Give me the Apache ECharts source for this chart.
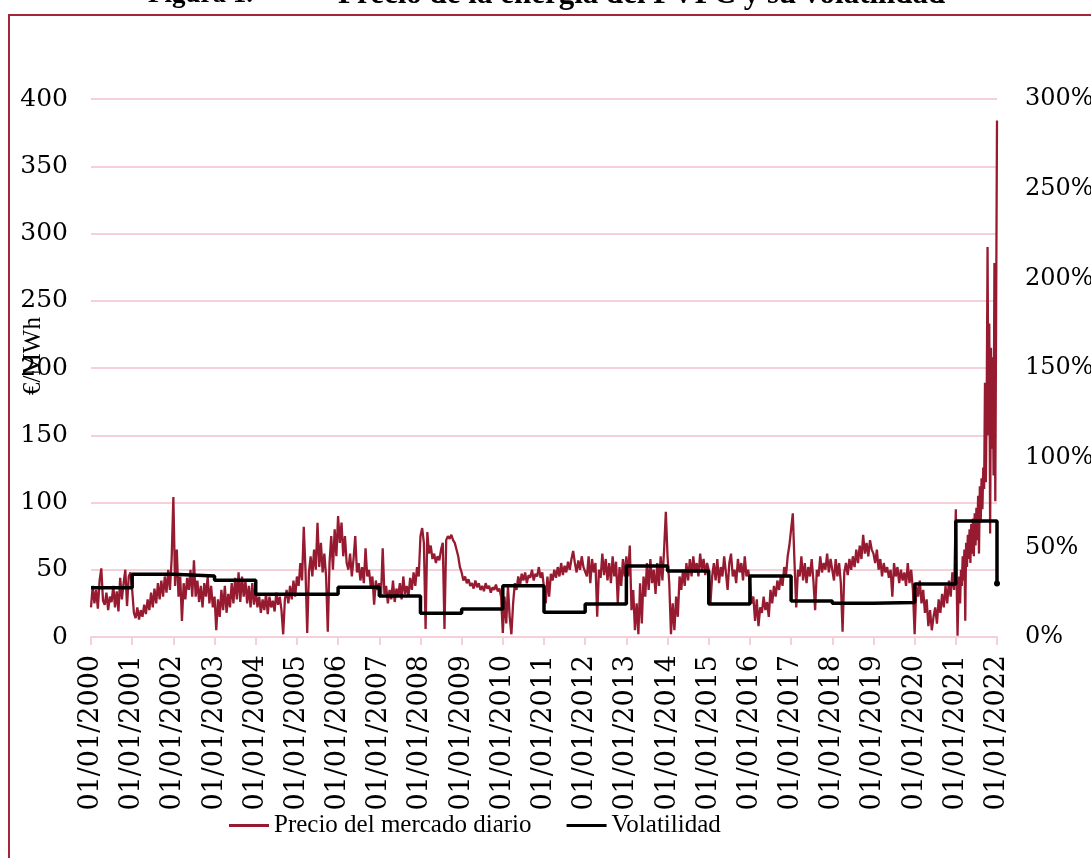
<!DOCTYPE html>
<html>
<head>
<meta charset="utf-8">
<script src="https://cdn.jsdelivr.net/npm/echarts@6/dist/echarts.min.js"></script>
<style>
html,body{margin:0;padding:0;background:#fff;overflow:hidden;}
#chart{width:1091px;height:858px;}
</style>
</head>
<body>
<div id="chart"></div>
<script>
// ---- Data ----
const titleLeft = 'Figura 1.';
const titleRight = 'Precio de la energía del PVPC y su volatilidad';
const priceName = 'Precio del mercado diario';
const volName = 'Volatilidad';
const yAxisName = '€/MWh';

// Price (€/MWh): readings spread evenly through each year (semi-monthly; weekly in 2021)
const price2000 = [22,38,25,35,21,42,51,27,24,33,20,30,26,38,22,34,19,44,28,40,50,23,45,48];
const price2001 = [35,18,14,22,13,20,15,24,17,28,20,33,22,36,25,40,28,42,30,45,33,50,35,58];
const price2002 = [104,38,65,30,45,12,40,28,44,35,50,30,57,30,42,26,38,22,40,30,45,25,38,22];
const price2003 = [30,5,28,15,35,20,38,18,32,22,40,25,44,28,48,26,45,30,42,25,38,22,40,24];
const price2004 = [35,22,30,18,28,20,32,17,30,22,27,19,33,24,30,20,2,28,35,25,38,28,42,30];
const price2005 = [45,38,55,42,82,50,3,48,60,45,65,50,85,52,70,48,62,45,4,55,75,50,80,60];
const price2006 = [90,70,85,60,75,55,50,62,45,58,75,48,55,42,52,40,66,45,50,38,45,24,42,35];
const price2007 = [40,30,66,32,38,25,35,28,42,26,36,30,40,28,45,32,38,30,44,35,48,38,52,45];
const price2008 = [75,81,70,6,78,62,68,58,62,55,60,57,65,70,6,72,75,73,76,72,70,65,60,52];
const price2009 = [48,42,45,40,43,38,40,36,42,37,40,35,38,34,40,36,38,33,37,35,39,34,36,30];
const price2010 = [3,30,10,38,15,2,25,40,35,45,38,47,42,48,40,46,44,50,42,47,45,52,44,48];
const price2011 = [48,25,45,30,47,42,50,44,52,45,55,46,53,48,56,50,58,64,55,48,57,50,60,52];
const price2012 = [52,45,60,40,58,48,55,15,50,44,62,46,58,42,55,40,60,45,56,25,52,38,58,45];
const price2013 = [60,45,68,20,35,5,25,2,40,10,45,30,55,35,58,40,50,32,55,38,60,42,65,93];
const price2014 = [60,40,2,25,5,30,15,45,35,50,38,55,42,58,45,60,48,55,45,62,50,58,46,55];
const price2015 = [50,25,45,55,42,58,40,52,45,60,48,35,55,62,45,50,40,58,48,55,42,60,45,50];
const price2016 = [40,25,30,12,28,8,22,18,30,20,26,15,35,25,38,30,42,35,45,38,52,45,60,68];
const price2017 = [68,92,55,22,50,45,60,42,55,40,52,45,58,42,20,50,45,60,48,55,50,62,48,58];
const price2018 = [50,42,58,45,55,40,4,48,55,46,58,50,60,52,65,55,68,58,76,62,70,60,72,65];
const price2019 = [62,55,65,50,58,45,55,48,52,44,50,30,55,45,52,40,50,42,48,38,55,40,50,35];
const price2020 = [2,38,30,42,25,35,18,28,8,20,5,15,22,10,28,18,32,22,38,25,42,30,48,35];
const price2021 = [95,40,1,30,45,25,50,38,60,42,65,12,70,52,76,58,80,55,84,62,88,60,92,68,
                   96,72,105,62,112,85,118,95,126,110,189,115,175,290,150,233,77,215,140,208,120,278,101,245];
const price2022 = [384];
const priceYears = [2000,2001,2002,2003,2004,2005,2006,2007,2008,2009,2010,2011,
                    2012,2013,2014,2015,2016,2017,2018,2019,2020,2021,2022];

// Volatility (%), one value per year, the last point closes the step on 01/01/2022
const volYears  = [2000,2001,2002,2003,2004,2005,2006,2007,2008,2009,2010,2011,2012,2013,2014,2015,2016,2017,2018,2019,2020,2021,2022];
const volValues = [27.5,35.0,34.0,31.6,23.8,23.8,27.7,22.9,13.2,15.6,28.6,13.8,18.4,39.6,36.8,18.4,34.0,20.1,18.8,19.3,29.6,64.7,29.9];

// Axis ticks
const xYears = {min: 2000, max: 2022, step: 1};
const leftTicks = {min: 0, max: 400, step: 50};
const rightTicks = {min: 0, max: 300, step: 50};

// ---- Build ----
const priceByYear = [price2000,price2001,price2002,price2003,price2004,price2005,price2006,
  price2007,price2008,price2009,price2010,price2011,price2012,price2013,price2014,price2015,
  price2016,price2017,price2018,price2019,price2020,price2021,price2022];
const priceData = [];
priceByYear.forEach((arr, k) => {
  arr.forEach((v, i) => priceData.push([priceYears[k] + i / arr.length, v]));
});
const volData = volYears.map((y, i) => i === volYears.length - 1
  ? {value: [y, volValues[i]], symbol: 'circle', symbolSize: 6}
  : [y, volValues[i]]);

const pink = '#f6d0d8';
const red = '#971b30';
const serif = 'DejaVu Serif';

const chart = echarts.init(document.getElementById('chart'), null, {renderer: 'canvas'});
chart.setOption({
  backgroundColor: '#ffffff',
  animation: false,
  grid: {left: 91, right: 94, top: 99, bottom: 221, containLabel: false, outerBoundsMode: 'none'},
  legend: {
    left: 229, top: 813, padding: 0,
    itemWidth: 40, itemHeight: 3, itemGap: 35,
    textStyle: {fontFamily: 'Liberation Serif', fontSize: 25, color: '#000'},
    data: [{name: priceName, icon: 'rect'}, {name: volName, icon: 'rect'}]
  },
  xAxis: {
    type: 'value', min: xYears.min, max: xYears.max, interval: xYears.step,
    axisLine: {show: true, lineStyle: {color: pink, width: 2}},
    axisTick: {show: true, length: 8, lineStyle: {color: pink, width: 2}},
    splitLine: {show: false},
    axisLabel: {
      rotate: 90, margin: 18, color: '#000', fontFamily: serif, fontSize: 27,
      formatter: v => '01/01/' + v
    }
  },
  yAxis: [
    {
      type: 'value', min: leftTicks.min, max: leftTicks.max, interval: leftTicks.step,
      axisLine: {show: false}, axisTick: {show: false},
      splitLine: {show: true, lineStyle: {color: pink, width: 2}},
      axisLabel: {margin: 23, color: '#000', fontFamily: serif, fontSize: 25}
    },
    {
      type: 'value', min: rightTicks.min, max: rightTicks.max, interval: rightTicks.step,
      position: 'right',
      axisLine: {show: false}, axisTick: {show: false},
      splitLine: {show: false},
      axisLabel: {margin: 28, color: '#000', fontFamily: serif, fontSize: 24, formatter: '{value}%'}
    }
  ],
  series: [
    {
      name: priceName, type: 'line', yAxisIndex: 0, data: priceData,
      showSymbol: false, symbol: 'none',
      lineStyle: {color: red, width: 2.3}, itemStyle: {color: red},
      z: 2
    },
    {
      name: volName, type: 'line', yAxisIndex: 1, data: volData, step: 'end',
      showSymbol: true, symbol: 'none',
      lineStyle: {color: '#000', width: 3.5}, itemStyle: {color: '#000'},
      z: 3
    }
  ],
  graphic: [
    {type: 'rect', z: 100, silent: true,
     shape: {x: 9, y: 15, width: 1300, height: 1000},
     style: {fill: 'none', stroke: '#a3263b', lineWidth: 2}},
    {type: 'text', z: 100, x: 148, y: -5,
     style: {text: titleLeft, font: 'bold 27px "Liberation Serif"', fill: '#000', textAlign: 'left', textVerticalAlign: 'middle'}},
    {type: 'text', z: 100, x: 338, y: -5,
     style: {text: titleRight, font: 'bold 31px "Liberation Serif"', fill: '#000', textAlign: 'left', textVerticalAlign: 'middle'}},
    {type: 'text', z: 100, x: 33, y: 356, rotation: Math.PI / 2,
     style: {text: yAxisName, font: '25px "Liberation Serif"', fill: '#000', textAlign: 'center', textVerticalAlign: 'middle'}}
  ]
});
</script>
</body>
</html>
